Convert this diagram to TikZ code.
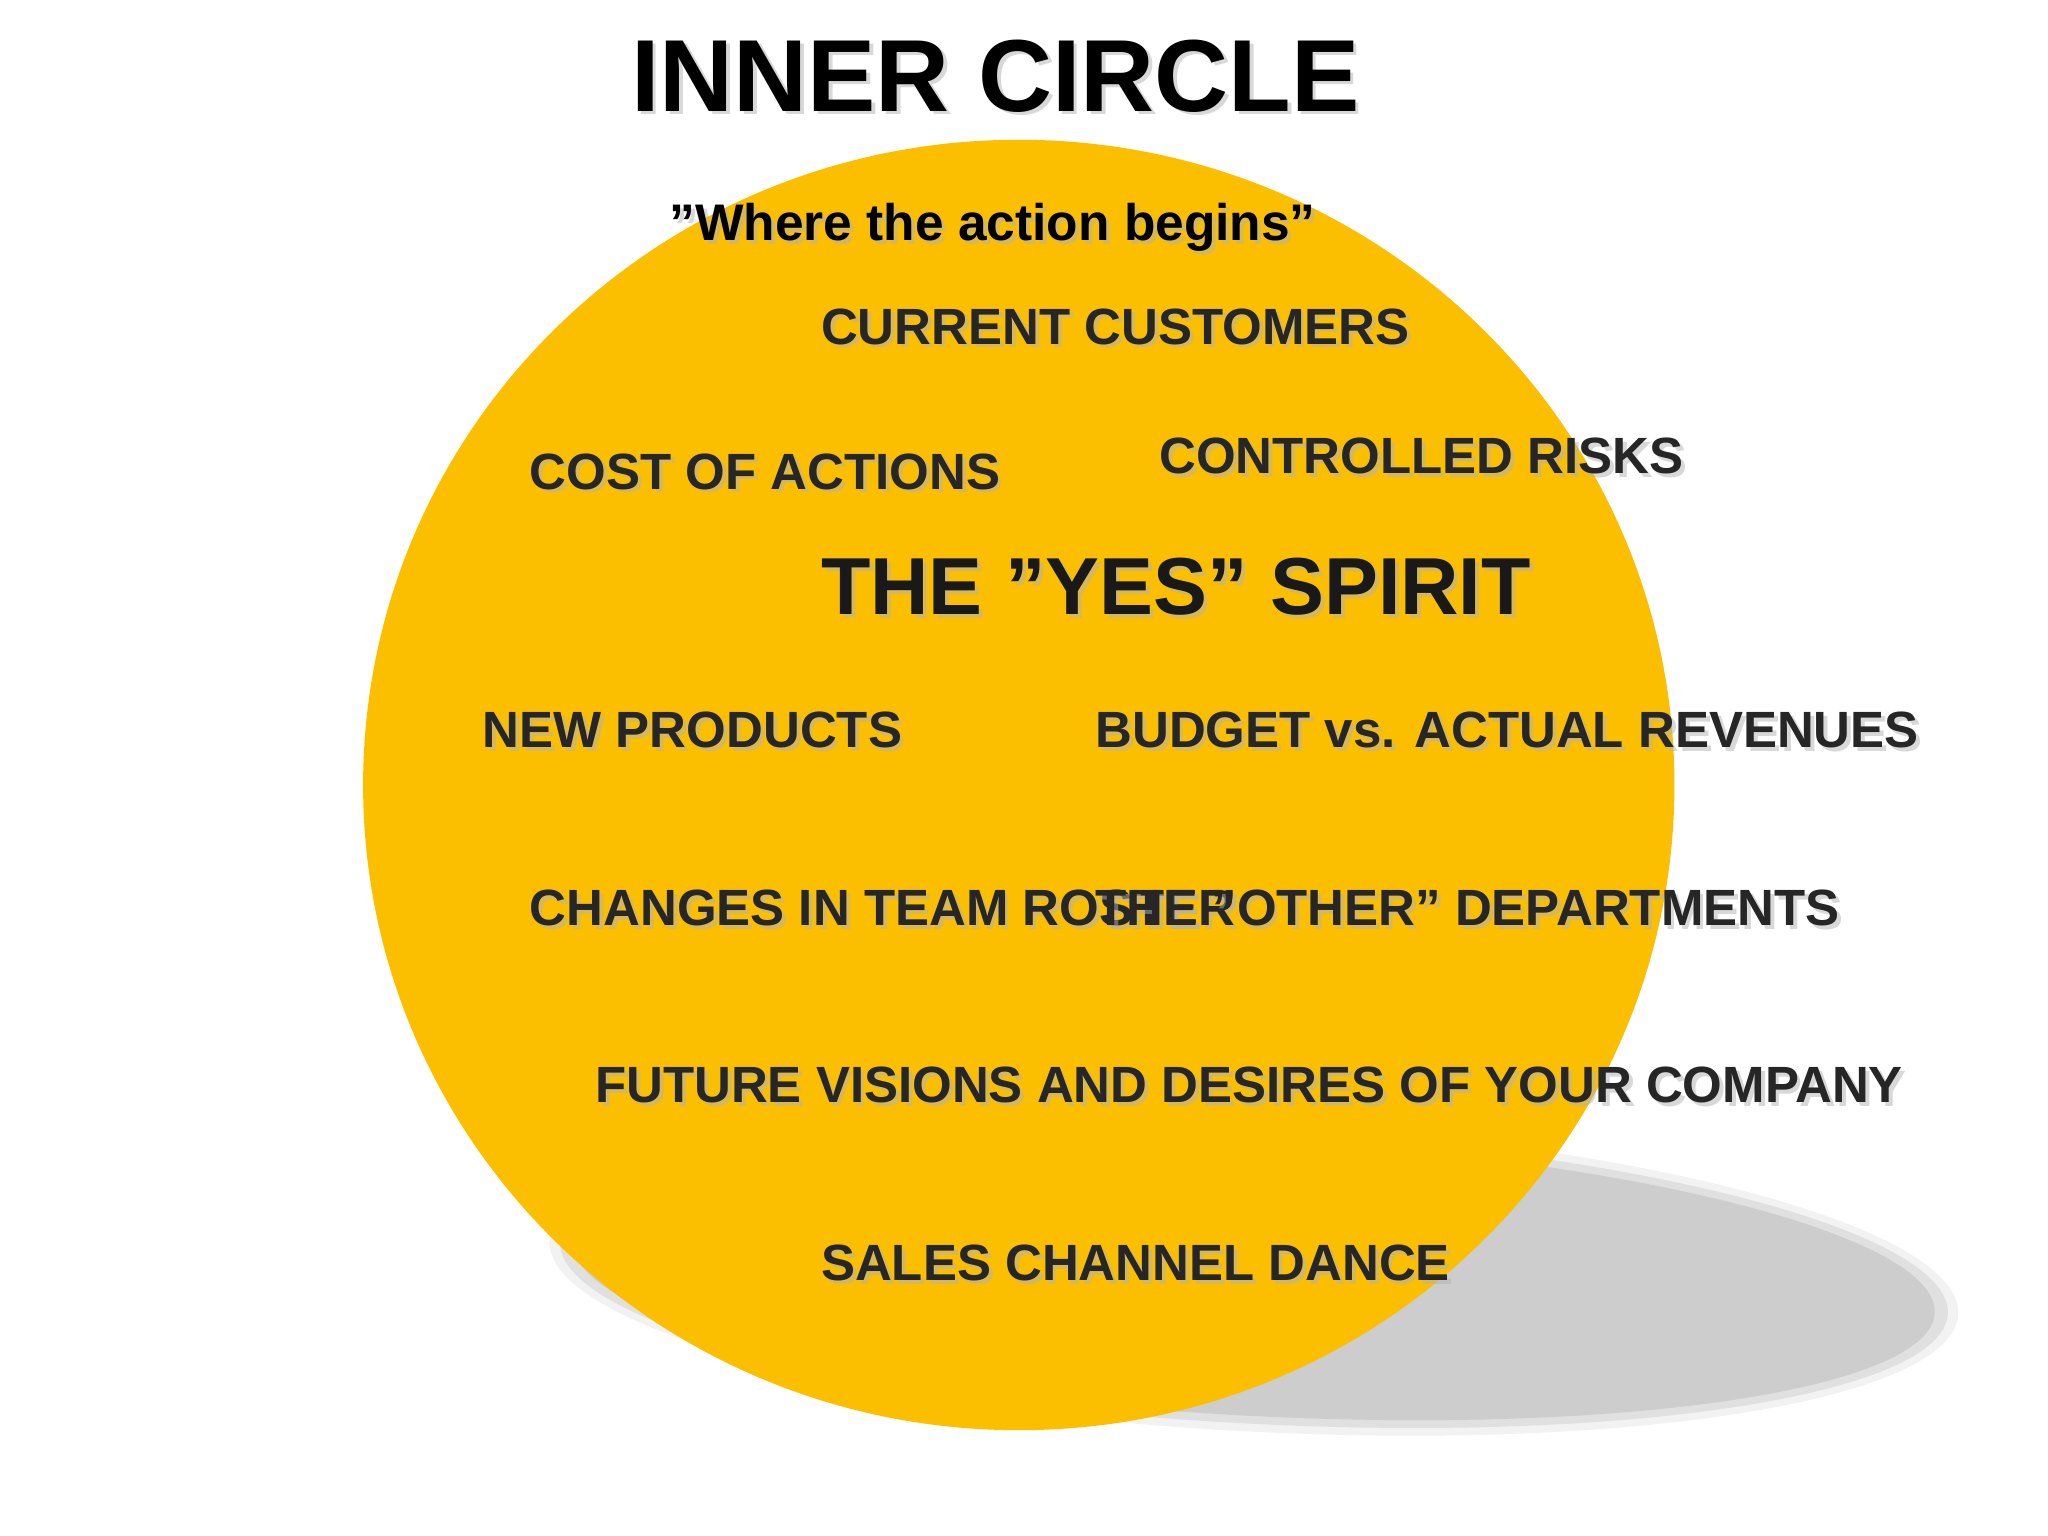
\documentclass[tikz,border=0pt]{standalone}
\usepackage{fontspec}
\setmainfont{Liberation Sans}
\usetikzlibrary{calc}
\definecolor{gold}{RGB}{252,191,0}
\definecolor{shadowgrey}{RGB}{205,205,205}
\begin{document}
\begin{tikzpicture}[x=0.01cm,y=-0.01cm,
  txt/.style={font=\bfseries\fontsize{11.1}{13}\selectfont,text=black!85,anchor=west,inner sep=0pt},
  big/.style={font=\bfseries\fontsize{17.6}{22}\selectfont,text=black!90,anchor=west,inner sep=0pt}]
\useasboundingbox (0,0) rectangle (1568,1176);
\fill[white] (0,0) rectangle (1568,1176);
% shadow
\fill[black!5,rotate around={-3:(960,978)}] (960,978) ellipse (540 and 118);
\fill[black!12,rotate around={-3:(960,978)}] (960,978) ellipse (532 and 112);
\fill[shadowgrey,rotate around={-3:(960,978)}] (960,978) ellipse (522 and 106);
\fill[gold] (780,601) ellipse (502 and 494);
\newcommand{\shtext}[4]{%
  \node[#1,text=black!30,opacity=0.5] at ($(#2)+(3,3)$) {#4};
  \node[#1] (#3) at (#2) {#4};}
\shtext{font=\bfseries\fontsize{22.3}{26}\selectfont,inner sep=0pt}{762,58}{title}{INNER CIRCLE}
\shtext{font=\bfseries\fontsize{11.2}{13}\selectfont,inner sep=0pt}{760,174}{sub}{”Where the action begins”}
\shtext{txt}{628,250}{a}{CURRENT CUSTOMERS}
\shtext{txt}{405,361}{b}{COST OF ACTIONS}
\shtext{txt}{887,349}{c}{CONTROLLED RISKS}
\shtext{big}{628,449}{d}{THE ”YES” SPIRIT}
\shtext{txt}{369,559}{e}{NEW PRODUCTS}
\shtext{txt}{838,559}{f}{BUDGET vs. ACTUAL REVENUES}
\shtext{txt}{405,695}{g}{CHANGES IN TEAM ROSTER}
\shtext{txt}{838,695}{h}{THE ”OTHER” DEPARTMENTS}
\shtext{txt}{455,831}{i}{FUTURE VISIONS AND DESIRES OF YOUR COMPANY}
\shtext{txt}{628,967}{j}{SALES CHANNEL DANCE}
\end{tikzpicture}
\end{document}
